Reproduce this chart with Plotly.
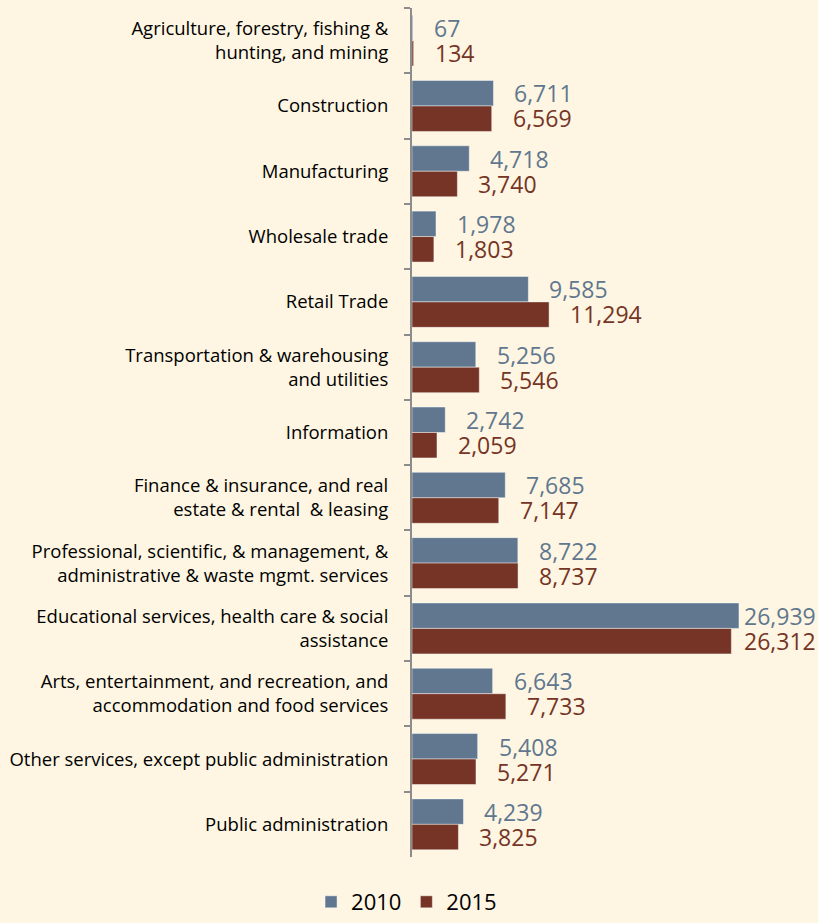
import plotly.graph_objects as go

categories = [
    "Agriculture, forestry, fishing &<br>hunting, and mining",
    "Construction",
    "Manufacturing",
    "Wholesale trade",
    "Retail Trade",
    "Transportation & warehousing<br>and utilities",
    "Information",
    "Finance & insurance, and real<br>estate & rental  & leasing",
    "Professional, scientific, & management, &<br>administrative & waste mgmt. services",
    "Educational services, health care & social<br>assistance",
    "Arts, entertainment, and recreation, and<br>accommodation and food services",
    "Other services, except public administration",
    "Public administration",
]
values_2010 = [67, 6711, 4718, 1978, 9585, 5256, 2742, 7685, 8722, 26939, 6643, 5408, 4239]
values_2015 = [134, 6569, 3740, 1803, 11294, 5546, 2059, 7147, 8737, 26312, 7733, 5271, 3825]
series_names = ["2010", "2015"]

C2010 = "#60778F"
C2015 = "#753425"
BG = "#FEF6E2"
FONT = "Open Sans"

fig = go.Figure()
for name, vals, col in [(series_names[0], values_2010, C2010), (series_names[1], values_2015, C2015)]:
    fig.add_trace(go.Bar(
        y=categories, x=vals, name=name, orientation="h",
        marker=dict(color=col, line=dict(color="rgba(255,255,255,0.45)", width=1)),
    ))

# value labels
for vals, col, yshift in [(values_2010, C2010, 12.5), (values_2015, C2015, -12.5)]:
    for cat, v in zip(categories, vals):
        if v > 20000:
            fig.add_annotation(x=1, xref="paper", y=cat, yref="y", text=f"{v:,}",
                               showarrow=False, xanchor="right", yshift=yshift,
                               font=dict(family=FONT, size=23, color=col))
        else:
            fig.add_annotation(x=v, y=cat, text=f"{v:,}", showarrow=False,
                               xanchor="left", xshift=19, yshift=yshift,
                               font=dict(family=FONT, size=23, color=col))

fig.update_layout(
    width=818, height=923,
    paper_bgcolor=BG, plot_bgcolor=BG,
    margin=dict(l=412, r=0, t=8, b=66),
    barmode="group", bargap=0.22, bargroupgap=0,
    font=dict(family=FONT, color="black"),
    showlegend=True,
    legend=dict(orientation="h", xref="container", yref="container",
                x=0.497, xanchor="center", y=0.0, yanchor="bottom",
                font=dict(family=FONT, size=22, color="black"),
                bgcolor="rgba(0,0,0,0)"),
    xaxis=dict(range=[0, 33450], visible=False, showgrid=False, zeroline=False),
    yaxis=dict(autorange="reversed", showline=True, linecolor="#8C8C8C", linewidth=2,
               ticks="outside", tickson="boundaries", ticklen=6, tickcolor="#8C8C8C",
               tickwidth=2,
               showgrid=False, tickfont=dict(family=FONT, size=18.5, color="black"),
               ticklabelstandoff=18),
)

fig.write_html("out.html", config={"displayModeBar": False},
               post_script="document.body.style.margin='0';document.body.style.background='%s';" % BG)
